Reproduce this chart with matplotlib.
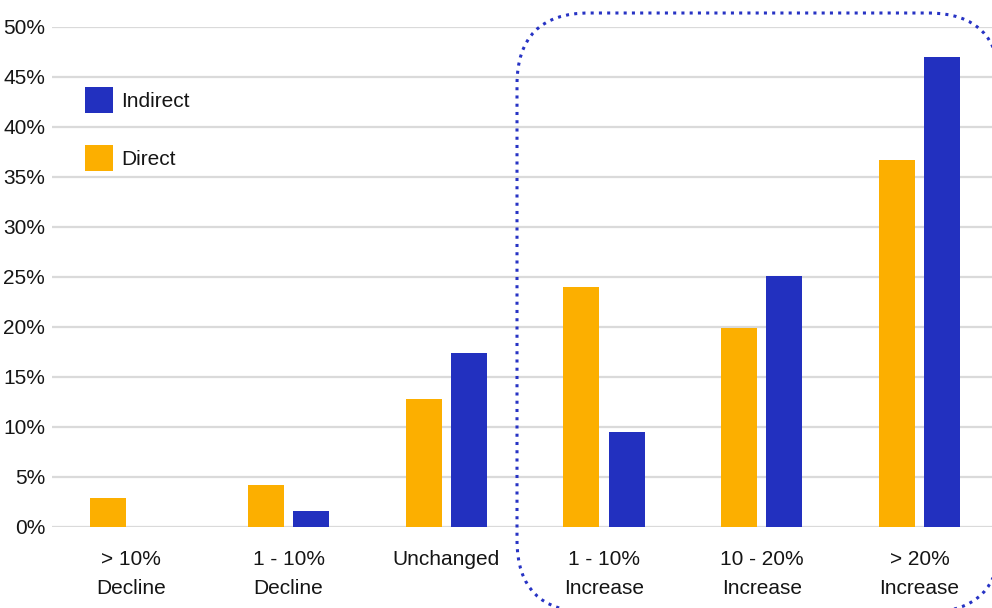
import numpy as np
import matplotlib.pyplot as plt
from matplotlib.patches import FancyBboxPatch
from matplotlib.lines import Line2D
from matplotlib.transforms import Affine2D

plt.rcParams['font.family'] = ['Liberation Sans', 'DejaVu Sans']

# Share of respondents by expected change
categories = ["> 10%\nDecline", "1 - 10%\nDecline", "Unchanged",
              "1 - 10%\nIncrease", "10 - 20%\nIncrease", "> 20%\nIncrease"]
direct = [2.9, 4.2, 12.8, 24.0, 19.9, 36.7]
indirect = [0.0, 1.6, 17.4, 9.5, 25.1, 47.0]
y_ticks = list(range(0, 55, 5))

direct_color = "#FCAF00"
indirect_color = "#2230BF"
text_color = "#151515"
fs = 15

W, H = 992, 608
fig = plt.figure(figsize=(W / 100, H / 100), dpi=100)
ax = fig.add_axes([52 / W, (H - 527) / H, 940 / W, 500 / H])

x = np.arange(len(categories))
bw = 0.228
off = 0.143
ax.bar(x - off, direct, bw, color=direct_color, linewidth=0, zorder=3, label="Direct")
ax.bar(x + off, indirect, bw, color=indirect_color, linewidth=0, zorder=3, label="Indirect")

ax.set_xlim(-0.5, 5.46)
ax.set_ylim(0, 50)
ax.set_yticks(y_ticks)
ax.set_yticklabels([f"{t}%" for t in y_ticks])
ax.set_xticks(x)
ax.set_xticklabels(categories, linespacing=1.68)
ax.tick_params(axis='y', length=0, pad=5, labelsize=fs, labelcolor=text_color)
ax.tick_params(axis='x', length=0, pad=16.5, labelsize=fs, labelcolor=text_color)
ax.grid(axis='y', color="#dadada", linewidth=1.6, zorder=0)
ax.set_axisbelow(True)
for s in ax.spines.values():
    s.set_visible(False)

# legend: Indirect above Direct
h, l = ax.get_legend_handles_labels()
ax.legend(h[::-1], l[::-1], loc='upper left',
          bbox_to_anchor=((85 - 52) / 940, 1 - (87 - 27) / 500),
          frameon=False, fontsize=fs, borderpad=0, borderaxespad=0,
          handlelength=1.344, handleheight=1.543, labelspacing=1.54,
          handletextpad=0.4, labelcolor=text_color)

# dotted rounded frame around the increase groups (pixel units, y up)
px = Affine2D().scale(1 / W, 1 / H) + fig.transFigure
box = FancyBboxPatch((517, H - 612), 483, 599,
                     boxstyle="round,pad=0,rounding_size=72")
for poly in box.get_path().to_polygons(closed_only=True):
    fig.add_artist(Line2D(poly[:, 0], poly[:, 1], transform=px,
                          color="#2733C4", linewidth=2.2,
                          linestyle=(0, (1, 1.7)), clip_on=False))

fig.savefig("out.png", dpi=100)
